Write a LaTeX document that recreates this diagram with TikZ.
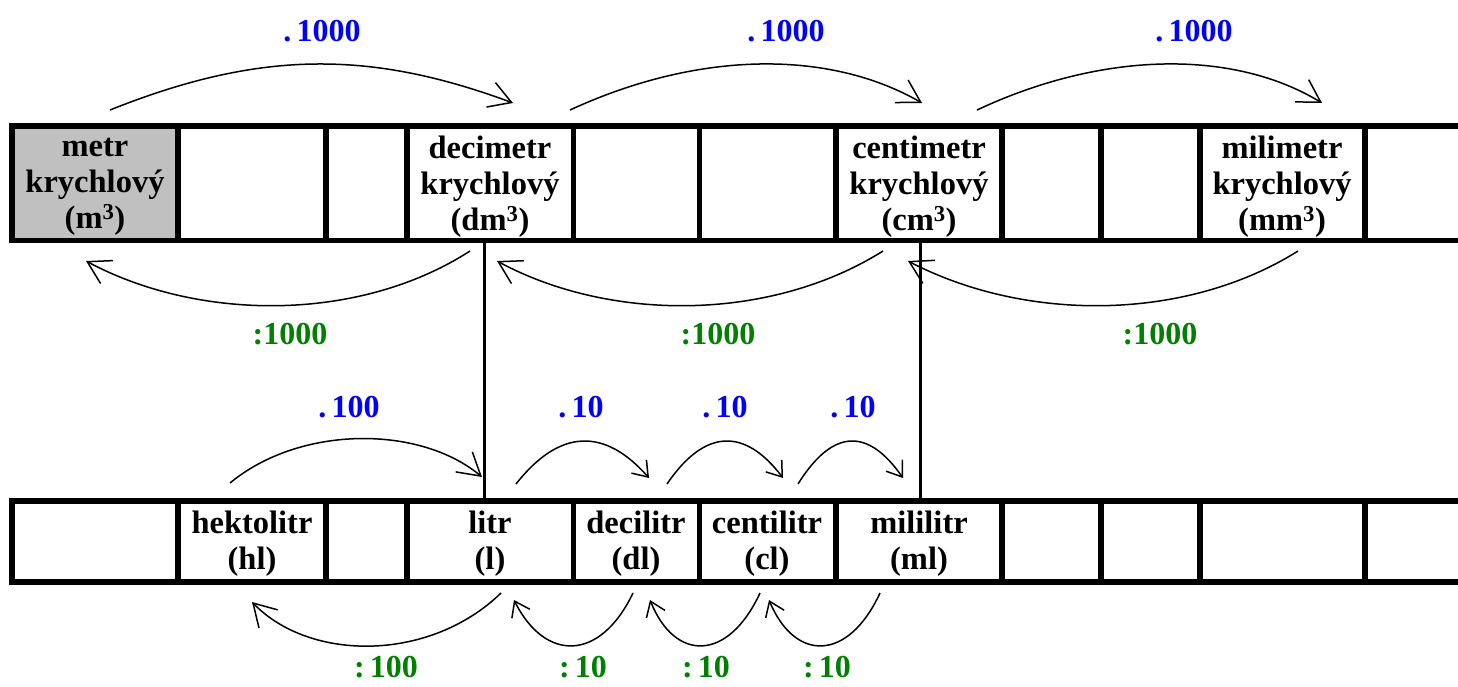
\documentclass[tikz,border=0pt]{standalone}
\usepackage{fontspec}
\setmainfont{Liberation Serif}
\usetikzlibrary{arrows.meta}
\definecolor{lblue}{RGB}{0,0,255}
\definecolor{lgreen}{RGB}{0,128,0}
\definecolor{cellgray}{RGB}{192,192,192}
\begin{document}
\begin{tikzpicture}[x=1pt,y=-1pt,
  grid/.style={line width=5.5pt},
  unit/.style={font=\fontsize{32.5}{36}\selectfont\bfseries, align=center, inner sep=0pt},
  mul/.style={font=\fontsize{32}{35}\selectfont\bfseries, text=lblue, anchor=base, inner sep=0pt},
  dvd/.style={font=\fontsize{32}{35}\selectfont\bfseries, text=lgreen, anchor=base, inner sep=0pt},
  bigarrow/.style={line width=1.5pt, -{Straight Barb[length=22pt,width=26pt]}},
  smallarrow/.style={line width=1.5pt, -{Straight Barb[length=14pt,width=20pt]}},
  link/.style={line width=3pt}
]
\useasboundingbox (0,0) rectangle (1458,686);
\clip (0,0) rectangle (1458,686);
% grey cell
\fill[cellgray] (15,129) rectangle (175,238);
% top table
\draw[grid] (9,126) -- (1458,126);
\draw[grid] (9,240.5) -- (1458,240.5);
\foreach \x in {12,178,326,407,573.5,699.5,836,1002,1101,1200,1365}
  \draw[grid] (\x,123) -- (\x,243);
% bottom table
\draw[grid] (9,501) -- (1458,501);
\draw[grid] (9,582) -- (1458,582);
\foreach \x in {12,178,326,407,573.5,699.5,836,1002,1101,1200,1365}
  \draw[grid] (\x,498) -- (\x,585);
% top units
\node[unit] (m3)  at (95,187)   {metr\\krychlový\\(m\textsuperscript{3})};
\node[unit] (dm3) at (490,187)  {decimetr\\krychlový\\(dm\textsuperscript{3})};
\node[unit] (cm3) at (919,187)  {centimetr\\krychlový\\(cm\textsuperscript{3})};
\node[unit] (mm3) at (1282,187) {milimetr\\krychlový\\(mm\textsuperscript{3})};
% bottom units
\node[unit] (hl) at (252,544) {hektolitr\\(hl)};
\node[unit] (l)  at (490,544) {litr\\(l)};
\node[unit] (dl) at (636,544) {decilitr\\(dl)};
\node[unit] (cl) at (767,544) {centilitr\\(cl)};
\node[unit] (ml) at (919,544) {mililitr\\(ml)};
% links between the tables
\coordinate (dmlink) at (484,243);
\coordinate (llink) at (484,498);
\coordinate (cmlink) at (920,243);
\coordinate (mllink) at (920,498);
\draw[link] (dmlink) -- (llink);
\draw[link] (cmlink) -- (mllink);
% top multiplication arrows
\coordinate (a1s) at (110,110); \coordinate (a1e) at (513,103);
\coordinate (a2s) at (570,110); \coordinate (a2e) at (922,103);
\coordinate (a3s) at (977,110); \coordinate (a3e) at (1322,103);
\draw[bigarrow] (a1s) .. controls (260,50) and (370,50) .. (a1e);
\draw[bigarrow] (a2s) .. controls (700,50) and (830,50) .. (a2e);
\draw[bigarrow] (a3s) .. controls (1105,50) and (1235,50) .. (a3e);
\node[mul] (k1) at (322,41)  {.\,1000};
\node[mul] (k2) at (786,41)  {.\,1000};
\node[mul] (k3) at (1194,41) {.\,1000};
% middle division arrows
\coordinate (b1s) at (470,251);  \coordinate (b1e) at (86,261);
\coordinate (b2s) at (883,251);  \coordinate (b2e) at (497,261);
\coordinate (b3s) at (1298,251); \coordinate (b3e) at (908,261);
\draw[bigarrow] (b1s) .. controls (360,322) and (200,322) .. (b1e);
\draw[bigarrow] (b2s) .. controls (770,322) and (610,322) .. (b2e);
\draw[bigarrow] (b3s) .. controls (1185,322) and (1025,322) .. (b3e);
\node[dvd] (d1) at (290,344)  {:1000};
\node[dvd] (d2) at (718,344)  {:1000};
\node[dvd] (d3) at (1160,344) {:1000};
% multiplication arrows to litres
\coordinate (c0s) at (230,483); \coordinate (c0e) at (482,477);
\coordinate (c1s) at (516,484); \coordinate (c1e) at (649,478);
\coordinate (c2s) at (667,484); \coordinate (c2e) at (783,478);
\coordinate (c3s) at (798,484); \coordinate (c3e) at (903,478);
\draw[bigarrow] (c0s) .. controls (300,425) and (420,425) .. (c0e);
\draw[smallarrow] (c1s) .. controls (560,428) and (605,428) .. (c1e);
\draw[smallarrow] (c2s) .. controls (705,428) and (745,428) .. (c2e);
\draw[smallarrow] (c3s) .. controls (833,428) and (868,428) .. (c3e);
\node[mul] (h100) at (349,417) {.\,100};
\node[mul] (h10a) at (581,417) {.\,10};
\node[mul] (h10b) at (725,417) {.\,10};
\node[mul] (h10c) at (853,417) {.\,10};
% bottom division arrows
\coordinate (e0s) at (501,593); \coordinate (e0e) at (252,602);
\coordinate (e1s) at (633,593); \coordinate (e1e) at (514,600);
\coordinate (e2s) at (760,593); \coordinate (e2e) at (650,600);
\coordinate (e3s) at (880,593); \coordinate (e3e) at (769,600);
\draw[bigarrow] (e0s) .. controls (430,662) and (310,662) .. (e0e);
\draw[smallarrow] (e1s) .. controls (600,662) and (545,662) .. (e1e);
\draw[smallarrow] (e2s) .. controls (728,662) and (675,662) .. (e2e);
\draw[smallarrow] (e3s) .. controls (848,662) and (795,662) .. (e3e);
\node[dvd] (q100) at (386,677) {:\,100};
\node[dvd] (q10a) at (583,677) {:\,10};
\node[dvd] (q10b) at (706,677) {:\,10};
\node[dvd] (q10c) at (827,677) {:\,10};
\end{tikzpicture}
\end{document}
